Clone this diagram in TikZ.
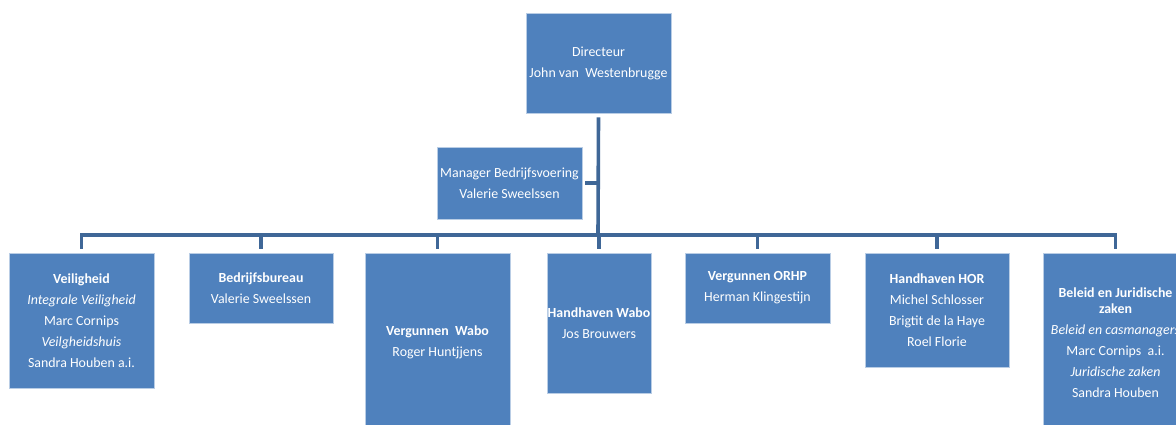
\documentclass[tikz,border=0pt]{standalone}
\usepackage{fontspec}
\setmainfont{Carlito}
\definecolor{boxblue}{RGB}{79,129,189}
\definecolor{boxedge}{RGB}{185,205,229}
\definecolor{connblue}{RGB}{63,103,151}
\tikzset{
  orgbox/.style={rectangle, fill=boxblue, draw=boxedge, line width=0.8pt, inner sep=0pt,
    text=white, align=center, font=\fontsize{13.9}{16}\selectfont},
  conn/.style={draw=connblue, line width=3.6pt, line join=miter}
}
\begin{document}
\begin{tikzpicture}[x=1pt,y=-1pt]
\useasboundingbox (0,0) rectangle (1176,425);
\clip (0,0) rectangle (1176,425);
\fill[white] (0,0) rectangle (1176,425);

\node[orgbox, minimum width=145pt, minimum height=100pt] (dir) at (598.5,63)
  {Directeur\\[5pt]John van\ \ Westenbrugge};
\node[orgbox, minimum width=145pt, minimum height=72pt] (mgr) at (509.5,183)
  {Manager Bedrijfsvoering\\[5pt]Valerie Sweelssen};

\node[orgbox, minimum width=145pt, minimum height=135pt] (vei) at (81.5,320.5)
  {\textbf{Veiligheid}\\[5pt]\textit{Integrale Veiligheid}\\[5pt]Marc Cornips\\[5pt]\textit{Veilgheidshuis}\\[5pt]Sandra Houben a.i.};
\node[orgbox, minimum width=144pt, minimum height=70pt] (bed) at (261,288)
  {\textbf{Bedrijfsbureau}\\[5pt]Valerie Sweelssen};
\node[orgbox, minimum width=145pt, minimum height=179pt] (vw) at (437.5,342.5)
  {\textbf{Vergunnen\ \ Wabo}\\[5pt]Roger Huntjjens};
\node[orgbox, minimum width=104pt, minimum height=140pt] (hw) at (599,323)
  {\textbf{Handhaven Wabo}\\[5pt]Jos Brouwers};
\node[orgbox, minimum width=145pt, minimum height=70pt] (orhp) at (757.5,288)
  {\textbf{Vergunnen ORHP}\\[5pt]Herman Klingestijn};
\node[orgbox, minimum width=144pt, minimum height=114pt] (hor) at (937,310)
  {\textbf{Handhaven HOR}\\[5pt]Michel Schlosser\\[5pt]Brigtit de la Haye\\[5pt]Roel Florie};
\node[orgbox, minimum width=145pt, minimum height=179pt] (bel) at (1115.5,342.5)
  {\textbf{Beleid en Juridische}\\\textbf{zaken}\\[5pt]\textit{Beleid en casmanagers}\\[5pt]Marc Cornips\ \ a.i.\\[5pt]\textit{Juridische zaken}\\[5pt]Sandra Houben};

\coordinate (bus) at (598,235);

\draw[conn] ([yshift=-4pt]dir.south) -- (bus);
\draw[conn] ([xshift=3pt]mgr.east) -- (mgr.east -| bus);
\draw[conn] ([yshift=4pt]vei.north) |- (bus);
\draw[conn] ([yshift=4pt]bed.north) |- (bus);
\draw[conn] ([yshift=4pt]vw.north) |- (bus);
\draw[conn] ([yshift=4pt]hw.north) -- (hw.north |- bus);
\draw[conn] ([yshift=4pt]orhp.north) |- (bus);
\draw[conn] ([yshift=4pt]hor.north) |- (bus);
\draw[conn] ([yshift=4pt]bel.north) |- (bus);
\end{tikzpicture}
\end{document}
